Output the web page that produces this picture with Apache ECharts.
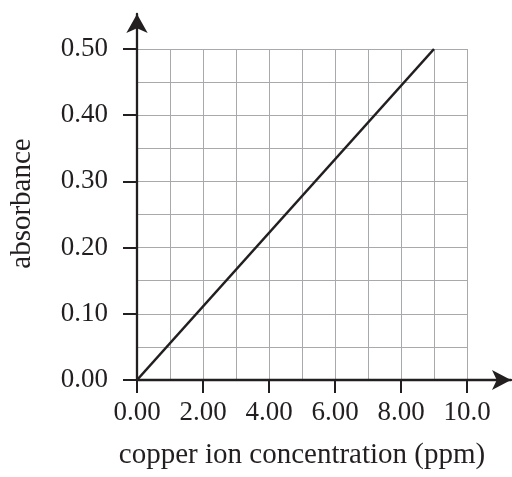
<!DOCTYPE html>
<html>
<head>
    <meta charset="utf-8">
    <title>absorbance</title>
    <script src="https://cdn.jsdelivr.net/npm/echarts@6/dist/echarts.min.js"></script>
    <style>
        html, body { margin: 0; padding: 0; background: #fff; }
    </style>
</head>
<body>
    <div id="main" style="width: 512px;height:477px;"></div>
    <script type="text/javascript">
        // calibration line data
        var concentration = [0, 9];
        var absorbance = [0, 0.5];
        var xTickLabels = ['0.00', '2.00', '4.00', '6.00', '8.00', '10.0'];
        var yTickLabels = ['0.00', '0.10', '0.20', '0.30', '0.40', '0.50'];

        var points = [];
        for (var i = 0; i < concentration.length; i++) {
            points.push([concentration[i], absorbance[i]]);
        }

        var ink = '#231f20';
        var font = 'Liberation Serif';
        var gridLine = { color: '#a7a9ac', width: 1 };

        var myChart = echarts.init(document.getElementById('main'));

        var option = {
            animation: false,
            textStyle: { fontFamily: font },
            grid: [
                { left: 137, right: 45, top: 49, bottom: 97, outerBoundsMode: 'none' },
                // second grid only carries the axis lines with arrow heads
                { left: 137, right: 1, top: 14, bottom: 97, outerBoundsMode: 'none' }
            ],
            xAxis: [{
                type: 'value',
                gridIndex: 0,
                min: 0,
                max: 10,
                interval: 2,
                name: 'copper ion concentration (ppm)',
                nameLocation: 'middle',
                nameGap: 61,
                nameTextStyle: { fontFamily: font, fontSize: 29, color: ink },
                axisLine: { show: false },
                axisTick: { show: true, inside: false, length: 13, lineStyle: { color: ink, width: 2 } },
                axisLabel: {
                    margin: 19,
                    fontFamily: font, fontSize: 27, color: ink,
                    formatter: function (v) { return xTickLabels[Math.round(v / 2)]; }
                },
                splitLine: { show: true, lineStyle: gridLine },
                minorTick: { show: false, splitNumber: 2 },
                minorSplitLine: { show: true, lineStyle: gridLine }
            }, {
                type: 'value',
                gridIndex: 1,
                min: 0,
                max: 1,
                axisLine: { show: true, symbol: ['none', 'arrow'], symbolSize: [15, 19], lineStyle: { color: ink, width: 2.3 } },
                axisTick: { show: false },
                axisLabel: { show: false },
                splitLine: { show: false }
            }],
            yAxis: [{
                type: 'value',
                gridIndex: 0,
                min: 0,
                max: 0.5,
                interval: 0.1,
                name: 'absorbance',
                nameLocation: 'middle',
                nameRotate: 90,
                nameGap: 100,
                nameTextStyle: { fontFamily: font, fontSize: 29, color: ink, padding: [0, 0, 0, 22] },
                axisLine: { show: false },
                axisTick: { show: true, inside: false, length: 14, lineStyle: { color: ink, width: 2 } },
                axisLabel: {
                    margin: 29,
                    fontFamily: font, fontSize: 27, color: ink,
                    formatter: function (v) { return yTickLabels[Math.round(v * 10)]; }
                },
                splitLine: { show: true, lineStyle: gridLine },
                minorTick: { show: false, splitNumber: 2 },
                minorSplitLine: { show: true, lineStyle: gridLine }
            }, {
                type: 'value',
                gridIndex: 1,
                min: 0,
                max: 1,
                axisLine: { show: true, symbol: ['none', 'arrow'], symbolSize: [16, 19], lineStyle: { color: ink, width: 2.3 } },
                axisTick: { show: false },
                axisLabel: { show: false },
                splitLine: { show: false }
            }],
            series: [{
                type: 'line',
                xAxisIndex: 0,
                yAxisIndex: 0,
                data: points,
                showSymbol: false,
                lineStyle: { color: ink, width: 2.6 },
                z: 5
            }]
        };

        myChart.setOption(option);
    </script>
</body>
</html>
